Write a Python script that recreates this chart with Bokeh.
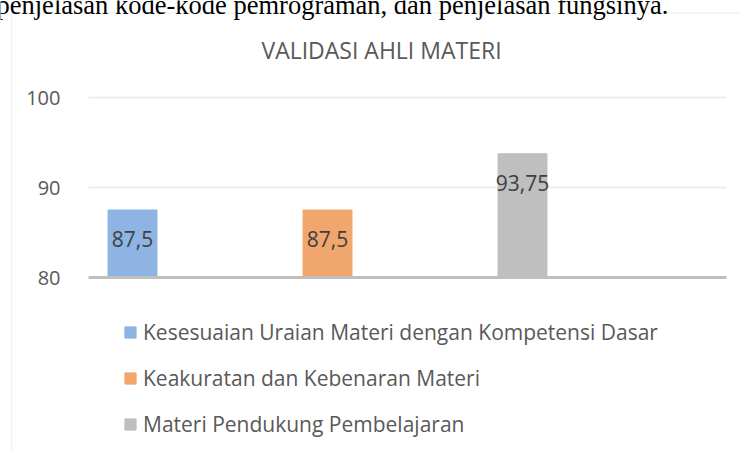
from bokeh.plotting import figure
from bokeh.models import (Range1d, Label, Legend, LegendItem, BoxAnnotation,
                          ColumnDataSource, LabelSet)
from bokeh.core.properties import value
from bokeh.embed import file_html
from bokeh.resources import INLINE

# ---- data ----
header = "penjelasan kode-kode pemrograman, dan penjelasan fungsinya."
chart_title = "VALIDASI AHLI MATERI"
series = ["Kesesuaian Uraian Materi dengan Kompetensi Dasar",
          "Keakuratan dan Kebenaran Materi",
          "Materi Pendukung Pembelajaran"]
values = [87.5, 87.5, 93.75]
value_labels = ["87,5", "87,5", "93,75"]
positions = [1, 2, 3]
y_ticks = [80, 90, 100]
y_base = 80

# ---- style / layout ----
colors = ["#8DB4E2", "#F1A66E", "#BFBFBF"]
FONT = "Open Sans"
W, H = 741, 450
PX_X = 195.0          # pixels per x unit
PX_Y = 9.0            # pixels per y unit
PLOT_LEFT_PX, PLOT_RIGHT_PX = 88, 726
BASE_PX = 277         # pixel row of y_base


def px_x(px):
    return positions[0] + (px - 132) / PX_X


def px_y(py):
    return y_base + (BASE_PX - py) / PX_Y


x_lo, x_hi = px_x(PLOT_LEFT_PX), px_x(PLOT_RIGHT_PX)

p = figure(width=W, height=H, output_backend="svg", toolbar_location=None,
           x_range=Range1d(px_x(0), px_x(W)), y_range=Range1d(px_y(H), px_y(0)),
           min_border_left=0, min_border_right=0, min_border_top=0, min_border_bottom=0)
p.outline_line_color = None
p.background_fill_color = "white"
p.border_fill_color = "white"

p.xaxis.visible = False
p.xgrid.visible = False
p.ygrid.visible = False

yax = p.yaxis[0]
yax.fixed_location = x_lo
yax.ticker = y_ticks
yax.axis_line_color = None
yax.major_tick_line_color = None
yax.minor_tick_line_color = None
yax.major_label_text_font = FONT
yax.major_label_text_font_size = "20px"
yax.major_label_text_color = "#595959"
yax.major_label_standoff = 22

# chart area border (left & top edges visible)
p.add_layout(BoxAnnotation(left=px_x(11), right=px_x(W + 30), top=px_y(12.5), bottom=px_y(H + 30),
                           fill_alpha=0, line_color="#D9D9D9", line_width=1.5))

# gridlines across the plot area
p.segment(x0=x_lo, x1=x_hi, y0=y_ticks[1:], y1=y_ticks[1:], line_color="#EEEEEE", line_width=2)

src = ColumnDataSource(dict(x=positions, top=values, color=colors,
                            label=value_labels, series=series))
bars = p.vbar(x="x", top="top", bottom=y_base, width=0.251, color="color", source=src)

# category axis baseline
p.segment(x0=x_lo, x1=x_hi, y0=y_base, y1=y_base, line_color="#BFBFBF", line_width=3)

p.add_layout(LabelSet(x="x", y="top", text="label", source=src, y_offset=-29,
                      text_align="center", text_baseline="middle",
                      text_font=value(FONT), text_font_size="21px", text_color="#404040"))

legend = Legend(items=[LegendItem(label=s, renderers=[bars], index=i) for i, s in enumerate(series)],
                location=(123, 12), orientation="vertical",
                padding=0, margin=0, spacing=18, glyph_width=14, glyph_height=14,
                label_height=27, label_standoff=6,
                label_text_font=FONT, label_text_font_size="21px", label_text_color="#595959",
                border_line_color=None, background_fill_alpha=0)
p.add_layout(legend, "center")

p.add_layout(Label(x=381, y=49, x_units="canvas", y_units="canvas", text=chart_title,
                   text_align="center", text_baseline="middle", text_font=FONT,
                   text_font_size="23px", text_color="#595959"))

p.add_layout(Label(x=-4, y=4, x_units="canvas", y_units="canvas", text=header,
                   text_align="left", text_baseline="alphabetic", text_font="Liberation Serif",
                   text_font_size="26.5px", text_color="black"))

open("out.html", "w").write(file_html(p, INLINE))
